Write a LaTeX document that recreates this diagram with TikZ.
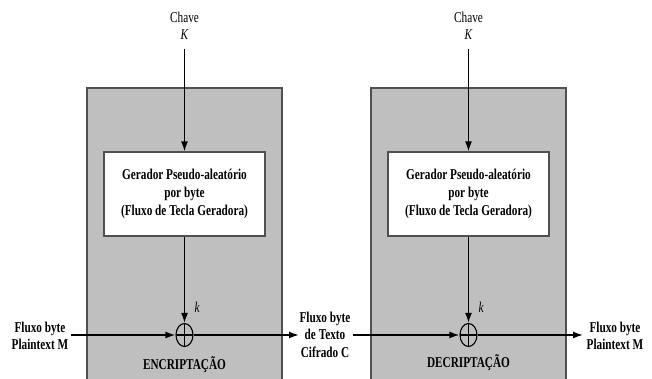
\documentclass[tikz,border=0pt]{standalone}
\usepackage{fontspec}
\setmainfont{Liberation Serif}[FakeStretch=0.75]
\usetikzlibrary{arrows.meta,shapes.geometric}
\definecolor{boxgray}{HTML}{BFBFBF}
\definecolor{edgegray}{HTML}{505050}
\tikzset{
	bloco/.style={draw=edgegray, line width=1.3pt, fill=boxgray, minimum width=195pt, minimum height=300pt, inner sep=0pt},
	gerador/.style={draw=edgegray, line width=1.1pt, fill=white, minimum width=161pt, minimum height=84pt, align=center, font=\bfseries\fontsize{15}{18}\selectfont},
	xorop/.style={ellipse, draw, line width=1.1pt, minimum width=17pt, minimum height=23pt, inner sep=0pt,
		path picture={\draw (path picture bounding box.north) -- (path picture bounding box.south) (path picture bounding box.west) -- (path picture bounding box.east);}},
	rotulo/.style={align=center, font=\bfseries\fontsize{15}{17}\selectfont},
	chavetxt/.style={align=center, font=\fontsize{15}{17}\selectfont},
	ktxt/.style={font=\itshape\fontsize{15}{17}\selectfont}
}

\begin{document}
\begin{tikzpicture}[>={Latex[length=10pt,width=7pt]}, x=1pt, y=-1pt, line width=1.6pt]
		\useasboundingbox (0,0) rectangle (652,379);
		\fill[white] (0,0) rectangle (652,379);
		% encriptacao
		\node[bloco] (enc) at (184.5,238) {};
		\node[gerador] (gen1) at (184.5,194) {Gerador Pseudo-aleatório\\por byte\\(Fluxo de Tecla Geradora)};
		\node[xorop] (xor1) at (184.5,335) {};
		\node[chavetxt] (chave1) at (184.5,25.5) {Chave\\\textit{K}};
		\coordinate (k1) at (184.5,49);
		\node[ktxt] (klab1) at (197,307) {k};
		\node[rotulo] (m1) at (40,335.5) {Fluxo byte\\Plaintext M};
		\node[rotulo] (e1) at (184.5,365) {ENCRIPTAÇÃO};
		\coordinate (in1) at (71,335);
		\coordinate (out1) at (299,335);
		\draw[->] (k1) -- (gen1.north);
		\draw[->] (gen1.south) -- (xor1.north);
		\draw[->] (in1) -- (xor1.west);
		\draw[->] (xor1.east) -- (out1);
		% texto cifrado
		\node[rotulo, font=\bfseries\fontsize{15}{17.5}\selectfont] (c1) at (325,334.5) {Fluxo byte\\de Texto\\Cifrado C};
		% decriptacao
		\node[bloco] (dec) at (468.5,238) {};
		\node[gerador] (gen2) at (468.5,194) {Gerador Pseudo-aleatório\\por byte\\(Fluxo de Tecla Geradora)};
		\node[xorop] (xor2) at (468.5,335) {};
		\node[chavetxt] (chave2) at (468.5,25.5) {Chave\\\textit{K}};
		\coordinate (k2) at (468.5,49);
		\node[ktxt] (klab2) at (481,307) {k};
		\node[rotulo] (m2) at (615,336) {Fluxo byte\\Plaintext M};
		\node[rotulo] (d2) at (468.5,363) {DECRIPTAÇÃO};
		\coordinate (in2) at (353,335);
		\coordinate (out2) at (583,335);
		\draw[->] (k2) -- (gen2.north);
		\draw[->] (gen2.south) -- (xor2.north);
		\draw[->] (in2) -- (xor2.west);
		\draw[->] (xor2.east) -- (out2);
	\end{tikzpicture}
\end{document}
